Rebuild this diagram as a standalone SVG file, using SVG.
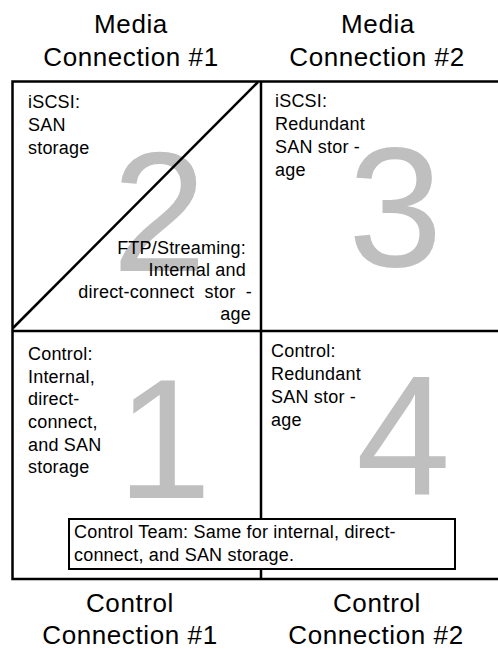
<svg xmlns="http://www.w3.org/2000/svg" width="498" height="649" viewBox="0 0 498 649">
<style>
.hdr{font-family:"Liberation Sans",Arial,Helvetica,sans-serif;font-size:26px;letter-spacing:0.6px;fill:#000;text-anchor:middle}
.t{font-family:"Liberation Sans",Arial,Helvetica,sans-serif;font-size:18px;letter-spacing:0.2px;fill:#000}
.big{font-family:"Liberation Sans",Arial,Helvetica,sans-serif;font-size:170px;fill:#bfbfbf}
.ln{stroke:#000;stroke-width:2.5;fill:none}
</style>
<rect width="498" height="649" fill="#fff"/>
<g id="headers">
<text class="hdr" x="131" y="33">Media</text>
<text class="hdr" x="131" y="66">Connection #1</text>
<text class="hdr" x="378" y="33">Media</text>
<text class="hdr" x="377" y="66">Connection #2</text>
<text class="hdr" x="130" y="612">Control</text>
<text class="hdr" x="130" y="644">Connection #1</text>
<text class="hdr" x="377" y="612">Control</text>
<text class="hdr" x="376" y="644">Connection #2</text>
</g>
<g id="cell2">
<text class="big" x="112" y="271">2</text>
<text class="t" x="28" y="108">iSCSI:</text>
<text class="t" x="28" y="131">SAN</text>
<text class="t" x="28" y="154">storage</text>
<text class="t" x="246" y="254" text-anchor="end">FTP/Streaming:</text>
<text class="t" x="246" y="276" text-anchor="end">Internal and</text>
<text class="t" x="252" y="298" text-anchor="end" xml:space="preserve">direct-connect  stor  -</text>
<text class="t" x="251" y="320" text-anchor="end">age</text>
</g>
<g id="cell3">
<text class="big" x="348" y="266">3</text>
<text class="t" x="275" y="107">iSCSI:</text>
<text class="t" x="275" y="130">Redundant</text>
<text class="t" x="275" y="153">SAN stor -</text>
<text class="t" x="275" y="176">age</text>
</g>
<g id="cell1">
<text class="big" x="117" y="498">1</text>
<text class="t" x="28" y="360">Control:</text>
<text class="t" x="28" y="383">Internal,</text>
<text class="t" x="28" y="405">direct-</text>
<text class="t" x="28" y="428">connect,</text>
<text class="t" x="28" y="451">and SAN</text>
<text class="t" x="28" y="473">storage</text>
</g>
<g id="cell4">
<text class="big" x="356" y="495">4</text>
<text class="t" x="271" y="357">Control:</text>
<text class="t" x="271" y="380">Redundant</text>
<text class="t" x="271" y="403">SAN stor -</text>
<text class="t" x="271" y="426">age</text>
</g>
<g id="connectors">
<rect class="ln" x="12.5" y="81.5" width="492" height="497.5"/>
<line class="ln" x1="261" y1="81.5" x2="261" y2="579"/>
<line class="ln" x1="12.5" y1="331" x2="504" y2="331"/>
<line class="ln" x1="13" y1="328" x2="258" y2="82" stroke-width="2"/>
</g>
<g id="controlTeam">
<rect x="69" y="519" width="386" height="50" fill="#fff" stroke="#000" stroke-width="2"/>
<text class="t" x="74" y="538">Control Team: Same for internal, direct-</text>
<text class="t" x="74" y="561">connect, and SAN storage.</text>
</g>
</svg>
